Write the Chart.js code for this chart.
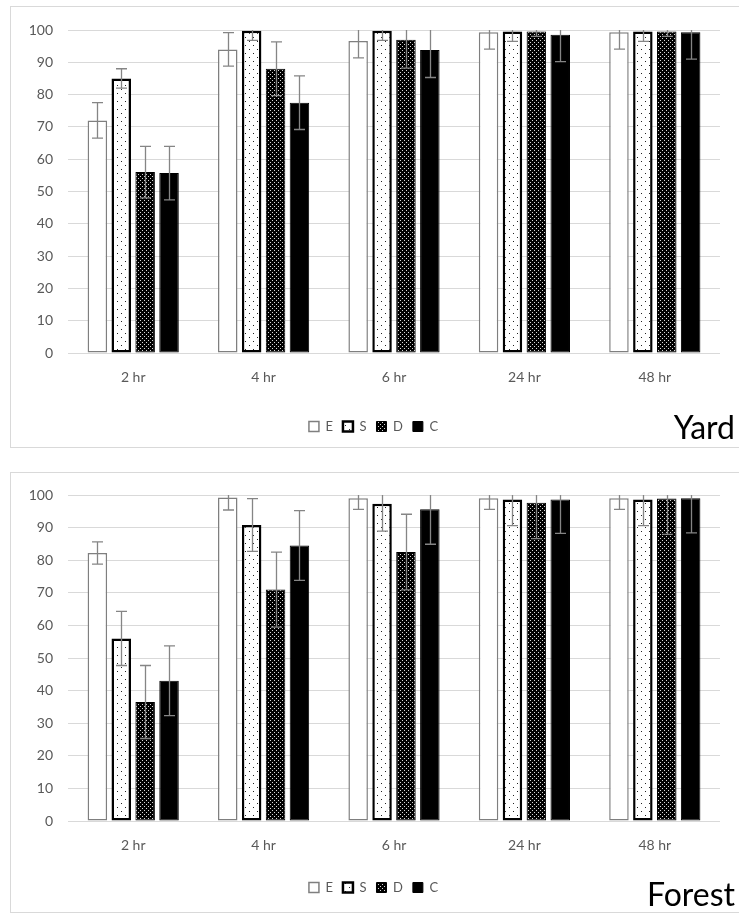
<!DOCTYPE html>
<html><head><meta charset="utf-8">
<script src="https://cdn.jsdelivr.net/npm/chart.js@4.4.1/dist/chart.umd.min.js"></script>
<style>
html,body{margin:0;padding:0;background:#fff;width:739px;height:914px;overflow:hidden;position:relative;font-family:Lato,sans-serif}
.panel{position:absolute;border:1px solid #d9d9d9;box-sizing:border-box}
canvas{position:absolute;left:0}
.ttl{position:absolute;right:4px;font-size:32px;line-height:32px;color:#000;font-family:Lato,sans-serif}
</style></head><body>
<div class="panel" style="left:10px;top:6px;width:745px;height:442px"></div>
<div class="panel" style="left:10px;top:472px;width:745px;height:441px"></div>
<canvas id="c1" width="739" height="447" style="top:0"></canvas>
<canvas id="c2" width="739" height="448" style="top:466px"></canvas>
<div class="ttl" style="top:411px">Yard</div>
<div class="ttl" style="top:878px">Forest</div>
<script>
const categories = ['2 hr', '4 hr', '6 hr', '24 hr', '48 hr'];
const seriesNames = ['E', 'S', 'D', 'C'];
const yMin = 0, yMax = 100, yStep = 10;

// Yard panel (mean, error)
const yardE    = [72.0, 94.0, 96.6, 99.3, 99.3];
const yardEErr = [5.5, 5.2, 5.2, 5.2, 5.2];
const yardS    = [85.0, 99.8, 99.8, 99.5, 99.5];
const yardSErr = [3.0, 3.0, 3.0, 3.0, 3.0];
const yardD    = [56.0, 88.0, 97.0, 99.5, 99.5];
const yardDErr = [8.0, 8.3, 8.8, 1.5, 1.5];
const yardC    = [55.7, 77.5, 93.8, 98.5, 99.3];
const yardCErr = [8.3, 8.3, 8.5, 8.3, 8.3];

// Forest panel (mean, error)
const forestE    = [82.2, 99.2, 99.0, 99.0, 99.0];
const forestEErr = [3.4, 3.8, 3.4, 3.4, 3.4];
const forestS    = [56.0, 90.8, 97.3, 98.6, 98.6];
const forestSErr = [8.3, 8.1, 8.4, 8.0, 8.0];
const forestD    = [36.5, 71.0, 82.5, 97.6, 98.9];
const forestDErr = [11.2, 11.5, 11.6, 11.0, 11.0];
const forestC    = [43.0, 84.5, 95.6, 98.6, 99.0];
const forestCErr = [10.7, 10.7, 10.7, 10.4, 10.6];

function makePattern(size, bg, fg, dots) {
  const c = document.createElement('canvas');
  c.width = size; c.height = size;
  const g = c.getContext('2d');
  g.fillStyle = bg; g.fillRect(0, 0, size, size);
  g.fillStyle = fg;
  dots.forEach(d => g.fillRect(d[0], d[1], 1, 1));
  return g.createPattern(c, 'repeat');
}
const patS = makePattern(8, '#ffffff', '#222222', [[1, 1], [5, 5]]);
const patD = makePattern(4, '#000000', '#d8d8d8', [[0, 0], [2, 2]]);

const errorBars = {
  id: 'errorBars',
  afterDatasetsDraw(chart) {
    const ctx = chart.ctx, ys = chart.scales.y, a = chart.chartArea;
    ctx.save();
    ctx.beginPath();
    ctx.rect(a.left, a.top, a.right - a.left, a.bottom - a.top);
    ctx.clip();
    ctx.strokeStyle = '#858585';
    ctx.lineWidth = 1.3;
    chart.data.datasets.forEach((ds, i) => {
      const meta = chart.getDatasetMeta(i);
      meta.data.forEach((el, j) => {
        const v = ds.data[j], e = ds.errors[j];
        const x = Math.round(el.x) + 0.5;
        const t = ys.getPixelForValue(v + e), b = ys.getPixelForValue(v - e);
        ctx.beginPath();
        ctx.moveTo(x, t); ctx.lineTo(x, b);
        ctx.moveTo(x - 5.5, t); ctx.lineTo(x + 5.5, t);
        ctx.moveTo(x - 5.5, b); ctx.lineTo(x + 5.5, b);
        ctx.stroke();
      });
    });
    ctx.restore();
  }
};

function buildDatasets(vals, errs) {
  const styles = [
    {backgroundColor: '#ffffff', borderColor: '#7f7f7f', borderWidth: 1.5},
    {backgroundColor: patS, borderColor: '#000000', borderWidth: 2.5},
    {backgroundColor: patD, borderColor: '#000000', borderWidth: 1},
    {backgroundColor: '#000000', borderColor: '#000000', borderWidth: 1}
  ];
  return seriesNames.map((n, i) => Object.assign({
    label: n, data: vals[i], errors: errs[i], borderSkipped: false,
    categoryPercentage: 0.733, barPercentage: 0.816
  }, styles[i]));
}

function makeChart(id, vals, errs, padTop, padBottom, xHeight) {
  return new Chart(document.getElementById(id), {
    type: 'bar',
    data: {labels: categories, datasets: buildDatasets(vals, errs)},
    plugins: [errorBars],
    options: {
      responsive: false, animation: false, devicePixelRatio: 1,
      layout: {padding: {left: 27, right: 19, top: padTop, bottom: padBottom}},
      plugins: {
        tooltip: {enabled: false},
        legend: {
          position: 'bottom',
          labels: {boxWidth: 10, boxHeight: 10, padding: 10, color: '#595959',
                   font: {family: 'Lato', size: 13}}
        }
      },
      scales: {
        x: {
          grid: {display: false, drawTicks: false},
          border: {display: false},
          ticks: {color: '#595959', padding: 16, font: {family: 'Lato', size: 14}},
          afterFit(s) { s.height = xHeight; }
        },
        y: {
          min: yMin, max: yMax,
          grid: {color: '#d9d9d9', drawTicks: false},
          border: {display: false},
          ticks: {stepSize: yStep, color: '#595959', padding: 15, font: {family: 'Lato', size: 14}},
          afterFit(s) { s.width = 41; }
        }
      }
    }
  });
}

makeChart('c1', [yardE, yardS, yardD, yardC], [yardEErr, yardSErr, yardDErr, yardCErr], 30, 4, 57);
makeChart('c2', [forestE, forestS, forestD, forestC], [forestEErr, forestSErr, forestDErr, forestCErr], 29, 10, 50);
</script>
</body></html>
